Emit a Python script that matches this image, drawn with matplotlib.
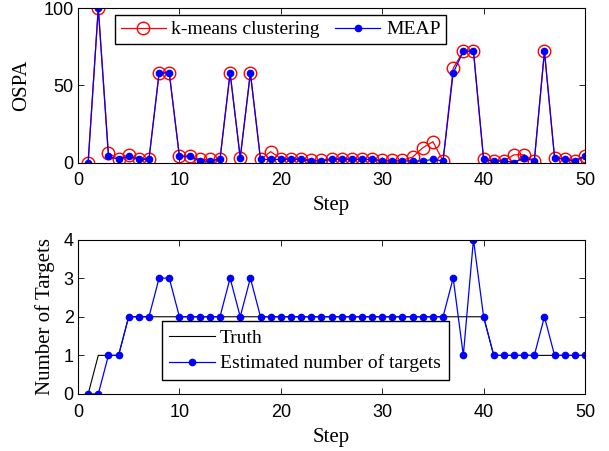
import matplotlib
matplotlib.use('Agg')
import matplotlib.pyplot as plt
import numpy as np

steps = np.arange(1, 51)

# OSPA error per step
ospa_kmeans = [0, 100, 6, 2.5, 5, 2.5, 2.5, 58, 58, 4,
               4, 2, 2, 2, 58, 3, 58, 2, 7, 2.5,
               2.5, 2.5, 1.5, 1.5, 2.5, 2.5, 2.5, 2, 2, 1.5,
               1.5, 1.5, 3.5, 9.5, 13.5, 1, 61, 72, 72, 2,
               1, 1, 5, 5, 1, 72, 3, 2.5, 1, 4.5]
ospa_meap = [0, 100, 4, 2, 4, 2, 2, 58, 58, 4,
             4, 1, 1, 2, 58, 3, 58, 2, 2, 2,
             2, 2, 1, 1, 2, 2, 2, 2, 2, 1,
             1, 1, 1, 1, 2, 1, 58, 72, 72, 2,
             1, 1, 0, 3, 1, 72, 3, 2, 1, 4]

# number of targets
n_truth = [0, 1, 1, 1, 2, 2, 2, 2, 2, 2,
           2, 2, 2, 2, 2, 2, 2, 2, 2, 2,
           2, 2, 2, 2, 2, 2, 2, 2, 2, 2,
           2, 2, 2, 2, 2, 2, 2, 2, 2, 2,
           1, 1, 1, 1, 1, 1, 1, 1, 1, 1]
n_est = [0, 0, 1, 1, 2, 2, 2, 3, 3, 2,
         2, 2, 2, 2, 3, 2, 3, 2, 2, 2,
         2, 2, 2, 2, 2, 2, 2, 2, 2, 2,
         2, 2, 2, 2, 2, 2, 3, 1, 4, 2,
         1, 1, 1, 1, 1, 2, 1, 1, 1, 1]

serif = 'Liberation Serif'
sans = 'Liberation Sans'

W, H = 609, 451
fig = plt.figure(figsize=(W / 100, H / 100), dpi=100)
ax1 = fig.add_axes([78 / W, 1 - 162.5 / H, (585 - 78) / W, (162.5 - 8) / H])
ax2 = fig.add_axes([78 / W, 1 - 394 / H, (585 - 78) / W, (394 - 239.5) / H])

ax1.plot(steps, ospa_kmeans, color='red', lw=0.9, marker='o', ms=9,
         mfc='none', mec='red', mew=1.0, label='k-means clustering')
ax1.plot(steps, ospa_meap, color='blue', lw=0.9, marker='.', ms=9,
         label='MEAP')
ax1.set_xlim(0, 50)
ax1.set_ylim(0, 100)
ax1.set_yticks([0, 50, 100])
ax1.set_xlabel('Step', fontfamily=serif, fontsize=15, labelpad=5)
ax1.set_ylabel('OSPA', fontfamily=serif, fontsize=15, labelpad=9)
ax1.legend(loc='upper left', bbox_to_anchor=(0.073, 0.955), ncol=2,
           prop={'family': serif, 'size': 14}, fancybox=False,
           edgecolor='black', framealpha=1, handlelength=2.3,
           borderpad=0.3, borderaxespad=0, columnspacing=0.8,
           handletextpad=0.3)

ax2.plot(steps, n_truth, color='black', lw=0.8, label='Truth')
ax2.plot(steps, n_est, color='blue', lw=0.9, marker='.', ms=9,
         label='Estimated number of targets')
ax2.set_xlim(0, 50)
ax2.set_ylim(0, 4)
ax2.set_yticks([0, 1, 2, 3, 4])
ax2.set_xlabel('Step', fontfamily=serif, fontsize=15, labelpad=5)
ax2.set_ylabel('Number of Targets', fontfamily=serif, fontsize=15, labelpad=6)
ax2.legend(loc='lower left', bbox_to_anchor=(0.165, 0.09),
           prop={'family': serif, 'size': 14}, fancybox=False,
           edgecolor='black', framealpha=1, handlelength=2.35,
           borderpad=0.4, borderaxespad=0, labelspacing=0.4,
           handletextpad=0.25)

for ax in (ax1, ax2):
    ax.set_xticks([0, 10, 20, 30, 40, 50])
    ax.tick_params(direction='in', length=4, width=0.6, top=True, right=True,
                   labelsize=13)
    ax.tick_params(axis='x', pad=7)
    ax.tick_params(axis='y', pad=3)
    for lbl in ax.get_xticklabels() + ax.get_yticklabels():
        lbl.set_fontfamily(sans)
    for sp in ax.spines.values():
        sp.set_linewidth(0.8)

fig.savefig('out.png', dpi=100)
